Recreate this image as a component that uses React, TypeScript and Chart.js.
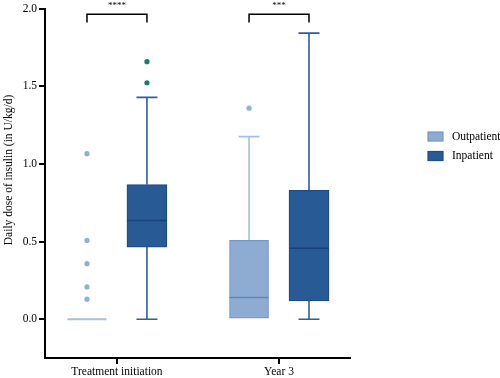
import React, { useEffect, useRef } from "react";
import { Chart, registerables } from "chart.js";

Chart.register(...registerables);

const categories = ["Treatment initiation", "Year 3"];
const seriesNames = ["Outpatient", "Inpatient"];
const groupOffsets = [-0.185, 0.185];

// per category: [whiskerLow, q1, median, q3, whiskerHigh]
const outpatientStats = [
  [0, 0, 0, 0, 0],
  [0, 0, 0.14, 0.508, 1.177],
];
const inpatientStats = [
  [0, 0.465, 0.637, 0.868, 1.43],
  [0, 0.118, 0.457, 0.83, 1.844],
];
const outpatientOutliers = [
  [1.067, 0.508, 0.358, 0.208, 0.129],
  [1.36],
];
const inpatientOutliers = [[1.66, 1.524], []];

const significance = ["****", "***"];
const yTicks = [0, 0.5, 1.0, 1.5, 2.0];

const serif = "'Liberation Serif', 'DejaVu Serif', serif";

const styles = {
  out: { fill: "#8eacd2", border: "#7197c7", median: "#5f86bb", whisker: "#a3bfe2", point: "#8fb0dc" },
  inp: { fill: "#285a96", border: "#1d4b8c", median: "#17427c", whisker: "#2b5fa3", point: "#147c7a" },
};

export default function App() {
  const ref = useRef<HTMLCanvasElement | null>(null);

  useEffect(() => {
    if (!ref.current) return;
    const statsList = [outpatientStats, inpatientStats];
    const styleList = [styles.out, styles.inp];

    const boxPlugin = {
      id: "boxExtras",
      beforeDatasetsDraw(chart: any) {
        const ctx = chart.ctx;
        const ys = chart.scales.y;
        ctx.save();
        [0, 1].forEach((d) => {
          const meta = chart.getDatasetMeta(d);
          meta.data.forEach((bar: any, i: number) => {
            const s = statsList[d][i];
            const x = bar.x;
            ctx.strokeStyle = styleList[d].whisker;
            ctx.lineWidth = 1.6;
            const lo = ys.getPixelForValue(s[0]);
            const q1 = ys.getPixelForValue(s[1]);
            const q3 = ys.getPixelForValue(s[3]);
            const hi = ys.getPixelForValue(s[4]);
            const cap = 10.5;
            if (lo !== q1) {
              ctx.beginPath();
              ctx.moveTo(x, q1); ctx.lineTo(x, lo);
              ctx.moveTo(x - cap, lo); ctx.lineTo(x + cap, lo);
              ctx.stroke();
            }
            if (hi !== q3) {
              ctx.beginPath();
              ctx.moveTo(x, q3); ctx.lineTo(x, hi);
              ctx.moveTo(x - cap, hi); ctx.lineTo(x + cap, hi);
              ctx.stroke();
            }
          });
        });
        ctx.restore();
      },
      afterDatasetsDraw(chart: any) {
        const ctx = chart.ctx;
        const ys = chart.scales.y;
        const xs = chart.scales.x;
        ctx.save();
        [0, 1].forEach((d) => {
          const meta = chart.getDatasetMeta(d);
          meta.data.forEach((bar: any, i: number) => {
            const s = statsList[d][i];
            const y = ys.getPixelForValue(s[2]);
            const flat = s[1] === s[3];
            ctx.strokeStyle = flat ? styleList[d].whisker : styleList[d].median;
            ctx.lineWidth = flat ? 2 : 1.5;
            ctx.beginPath();
            ctx.moveTo(bar.x - bar.width / 2, y);
            ctx.lineTo(bar.x + bar.width / 2, y);
            ctx.stroke();
          });
        });
        // significance brackets
        ctx.strokeStyle = "#000";
        ctx.lineWidth = 1.5;
        ctx.fillStyle = "#000";
        ctx.font = `9px ${serif}`;
        ctx.textAlign = "center";
        ctx.textBaseline = "middle";
        categories.forEach((_, i) => {
          const x1 = xs.getPixelForValue(i + groupOffsets[0]);
          const x2 = xs.getPixelForValue(i + groupOffsets[1]);
          const yTop = ys.getPixelForValue(1.965);
          const yLeg = ys.getPixelForValue(1.912);
          ctx.beginPath();
          ctx.moveTo(x1, yLeg); ctx.lineTo(x1, yTop); ctx.lineTo(x2, yTop); ctx.lineTo(x2, yLeg);
          ctx.stroke();
          ctx.fillText(significance[i], (x1 + x2) / 2, yTop - 9);
        });
        ctx.restore();
      },
      afterDraw(chart: any) {
        const ctx = chart.ctx;
        ctx.save();
        // legend
        ctx.font = `11.5px ${serif}`;
        ctx.textBaseline = "middle";
        ctx.textAlign = "left";
        seriesNames.forEach((name, i) => {
          const yc = 136.5 + i * 19.5;
          ctx.fillStyle = styleList[i].fill;
          ctx.fillRect(428, yc - 4.5, 15, 9);
          ctx.strokeStyle = styleList[i].border;
          ctx.lineWidth = 1.2;
          ctx.strokeRect(428, yc - 4.5, 15, 9);
          ctx.fillStyle = "#000";
          ctx.fillText(name, 452, yc);
        });
        // y title
        ctx.translate(9, 170);
        ctx.rotate(-Math.PI / 2);
        ctx.textAlign = "center";
        ctx.font = `11.5px ${serif}`;
        ctx.fillText("Daily dose of insulin (in U/kg/d)", 0, 0);
        ctx.restore();
      },
    };

    const boxData = (stats: number[][], d: number) =>
      categories.map((_, i) => ({ x: i + groupOffsets[d], y: [stats[i][1], stats[i][3]] }));
    const pointData = (outs: number[][], d: number) =>
      outs.flatMap((arr, i) => arr.map((v) => ({ x: i + groupOffsets[d], y: v })));

    const chart = new Chart(ref.current, {
      type: "bar",
      data: {
        datasets: [
          {
            label: seriesNames[0],
            data: boxData(outpatientStats, 0) as any,
            backgroundColor: styles.out.fill,
            borderColor: styles.out.border,
            borderWidth: 1.2,
            borderSkipped: false,
            barThickness: 39,
            grouped: false,
          } as any,
          {
            label: seriesNames[1],
            data: boxData(inpatientStats, 1) as any,
            backgroundColor: styles.inp.fill,
            borderColor: styles.inp.border,
            borderWidth: 1.2,
            borderSkipped: false,
            barThickness: 40,
            grouped: false,
          } as any,
          {
            type: "scatter",
            label: "Outpatient outliers",
            data: pointData(outpatientOutliers, 0),
            backgroundColor: styles.out.point,
            borderWidth: 0,
            pointRadius: 2.6,
          } as any,
          {
            type: "scatter",
            label: "Inpatient outliers",
            data: pointData(inpatientOutliers, 1),
            backgroundColor: styles.inp.point,
            borderWidth: 0,
            pointRadius: 2.6,
          } as any,
        ],
      },
      options: {
        animation: false,
        responsive: true,
        maintainAspectRatio: false,
        layout: { padding: { left: 0, top: 8, right: 150, bottom: 0 } },
        plugins: { legend: { display: false }, tooltip: { enabled: false } },
        scales: {
          x: {
            type: "linear",
            min: -0.444,
            max: 1.438,
            offset: false,
            afterBuildTicks: (s: any) => { s.ticks = categories.map((_, i) => ({ value: i })); },
            afterFit: (s: any) => { s.height = 20; },
            ticks: {
              callback: (v: any) => categories[Math.round(Number(v))] ?? "",
              color: "#000",
              font: { family: serif, size: 11.5 },
              padding: 1,
              maxRotation: 0,
            },
            grid: { offset: false, drawOnChartArea: false, drawTicks: true, tickLength: 6, color: "#000", lineWidth: 2 },
            border: { display: true, color: "#000", width: 2 },
          },
          y: {
            type: "linear",
            min: -0.25,
            max: 2.0,
            afterBuildTicks: (s: any) => { s.ticks = yTicks.map((v) => ({ value: v })); },
            afterFit: (s: any) => { s.width = 45; },
            ticks: {
              callback: (v: any) => Number(v).toFixed(1),
              color: "#000",
              font: { family: serif, size: 11.5 },
              padding: 2,
            },
            grid: { drawOnChartArea: false, drawTicks: true, tickLength: 6, color: "#000", lineWidth: 2 },
            border: { display: true, color: "#000", width: 2 },
          },
        },
      } as any,
      plugins: [boxPlugin],
    });
    return () => chart.destroy();
  }, []);

  return (
    <div style={{ position: "absolute", left: 0, top: 0, width: 500, height: 378 }}>
      <canvas ref={ref} />
    </div>
  );
}
